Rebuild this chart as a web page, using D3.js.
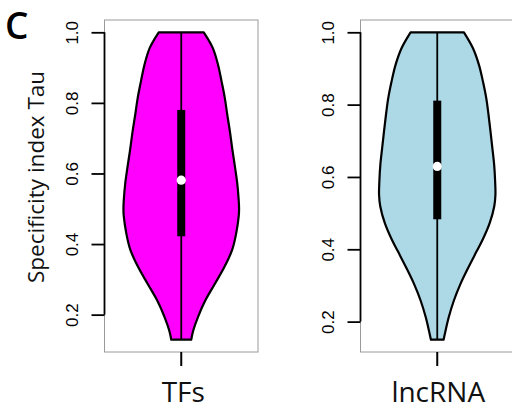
<!DOCTYPE html>
<html>
<head>
<meta charset="utf-8">
<script src="https://cdn.jsdelivr.net/npm/d3@7"></script>
<style>
  body { margin: 0; background: #fff; }
  svg { display: block; }
</style>
</head>
<body>
<svg id="chart" width="512" height="409"></svg>
<script>
// violin profiles: tau level and relative density (max = 1)
var groups = ['TFs', 'lncRNA'];
var fills = ['#ff00ff', '#add8e6'];
var yTicks = [0.2, 0.4, 0.6, 0.8, 1.0];

var tfTau = [1.0, 0.956, 0.909, 0.861, 0.815, 0.767, 0.72, 0.667, 0.62, 0.573, 0.526, 0.5, 0.479, 0.431, 0.384, 0.334, 0.287, 0.24, 0.193, 0.155, 0.129];
var tfDensity = [0.388, 0.543, 0.633, 0.695, 0.75, 0.793, 0.838, 0.882, 0.925, 0.965, 0.99, 0.997, 0.991, 0.948, 0.879, 0.741, 0.578, 0.414, 0.288, 0.207, 0.172];
// min, q1, median, q3, max
var tfBox = [0.129, 0.422, 0.581, 0.78, 1.0];

var lncTau = [1.0, 0.956, 0.91, 0.864, 0.818, 0.772, 0.726, 0.68, 0.634, 0.588, 0.55, 0.519, 0.473, 0.427, 0.395, 0.349, 0.303, 0.257, 0.212, 0.175, 0.15];
var lncDensity = [0.46, 0.616, 0.719, 0.788, 0.845, 0.884, 0.918, 0.95, 0.981, 0.998, 1.003, 0.983, 0.905, 0.784, 0.681, 0.534, 0.397, 0.284, 0.198, 0.143, 0.109];
var lncBox = [0.15, 0.483, 0.629, 0.811, 1.0];

var taus = [tfTau, lncTau],
	densities = [tfDensity, lncDensity],
	boxes = [tfBox, lncBox];

var svg = d3.select('#chart'),
	panelWidth = 256,
	plot = {left: 104.5, right: 258, top: 20, bottom: 352};

var w = d3.scaleLinear().domain([0, 1]).range([0, 58]);

groups.forEach(function(name, i) {
	var box = boxes[i],
		span = box[4] - box[0];

	var x = d3.scaleBand().domain([name]).range([plot.left, plot.right]),
		y = d3.scaleLinear()
			.domain([box[0] - 0.04 * span, box[4] + 0.04 * span])
			.range([plot.bottom, plot.top]);
	var cx = x(name) + x.bandwidth() / 2;

	var g = svg.append('g')
		.attr('transform', 'translate(' + (i * panelWidth) + ',0)');

	g.append('rect')
		.attr('x', plot.left)
		.attr('y', plot.top)
		.attr('width', plot.right - plot.left)
		.attr('height', plot.bottom - plot.top)
		.attr('fill', 'none')
		.attr('stroke', '#9a9a9a')
		.attr('stroke-width', 1);

	var profile = taus[i].map(function(t, k) { return {tau: t, d: densities[i][k]}; });

	var area = d3.area()
		.y(function(d) { return y(d.tau); })
		.x0(function(d) { return cx - w(d.d); })
		.x1(function(d) { return cx + w(d.d); })
		.curve(d3.curveCatmullRom);

	g.append('path')
		.datum(profile)
		.attr('d', area)
		.attr('fill', fills[i])
		.attr('stroke', '#000')
		.attr('stroke-width', 2.2)
		.attr('stroke-linejoin', 'round');

	// whisker
	g.append('line')
		.attr('x1', cx).attr('x2', cx)
		.attr('y1', y(box[0])).attr('y2', y(box[4]))
		.attr('stroke', '#000')
		.attr('stroke-width', 1.8);

	// interquartile box
	g.append('rect')
		.attr('x', cx - 4)
		.attr('y', y(box[3]))
		.attr('width', 8)
		.attr('height', y(box[1]) - y(box[3]))
		.attr('fill', '#000');

	g.append('circle')
		.attr('cx', cx)
		.attr('cy', y(box[2]))
		.attr('r', 4.6)
		.attr('fill', '#fff');

	// y axis
	var yAxis = g.append('g')
		.attr('transform', 'translate(' + plot.left + ',0)')
		.call(d3.axisLeft(y).tickValues(yTicks).tickSize(13).tickFormat(d3.format('.1f')));
	yAxis.select('.domain').remove();
	yAxis.selectAll('.tick line')
		.attr('stroke', '#000')
		.attr('stroke-width', 1.8);
	yAxis.selectAll('.tick text')
		.attr('x', null)
		.attr('dy', null)
		.attr('text-anchor', 'middle')
		.attr('transform', 'translate(-26.5,0) rotate(-90)')
		.attr('fill', '#000')
		.style('font-family', '"Liberation Sans", Arial, sans-serif')
		.style('font-size', '17px');
	yAxis.append('line')
		.attr('x1', 0).attr('x2', 0)
		.attr('y1', y(yTicks[0])).attr('y2', y(yTicks[yTicks.length - 1]))
		.attr('stroke', '#000')
		.attr('stroke-width', 1.8);

	// x axis
	var xAxis = g.append('g')
		.attr('transform', 'translate(0,' + plot.bottom + ')')
		.call(d3.axisBottom(x).tickSize(14).tickFormat(''));
	xAxis.select('.domain').remove();
	xAxis.selectAll('.tick line')
		.attr('stroke', '#000')
		.attr('stroke-width', 2);

	g.append('text')
		.attr('x', cx + (i === 0 ? 2 : 1))
		.attr('y', 402)
		.attr('text-anchor', 'middle')
		.style('font-family', '"Open Sans", sans-serif')
		.style('font-size', '28px')
		.attr('fill', '#111')
		.text(name);
});

svg.append('text')
	.attr('transform', 'translate(44,177) rotate(-90)')
	.attr('text-anchor', 'middle')
	.style('font-family', '"Open Sans", sans-serif')
	.style('font-size', '22.5px')
	.attr('fill', '#111')
	.text('Specificity index Tau');

svg.append('text')
	.attr('x', 5)
	.attr('y', 39)
	.style('font-family', '"Open Sans", sans-serif')
	.style('font-size', '37px')
	.style('font-weight', 600)
	.attr('fill', '#000')
	.text('C');
</script>
</body>
</html>
